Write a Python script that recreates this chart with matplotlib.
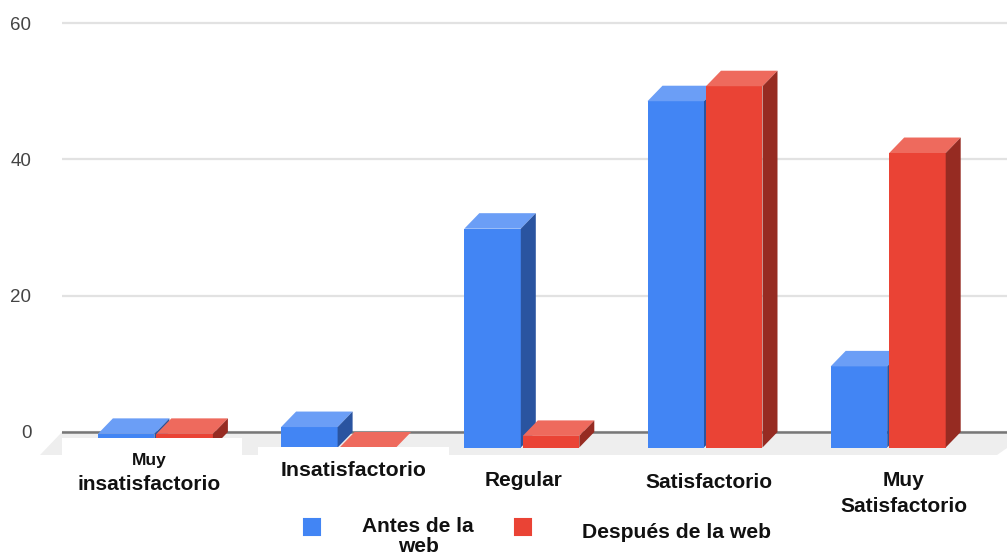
import matplotlib
matplotlib.use("Agg")
import matplotlib.pyplot as plt
from matplotlib.patches import Polygon, Rectangle, FancyBboxPatch

plt.rcParams['font.family'] = ['Liberation Sans', 'DejaVu Sans']

categories = ["Muy\ninsatisfactorio", "Insatisfactorio", "Regular", "Satisfactorio", "Muy\nSatisfactorio"]
antes = [2, 3, 32.1, 50.8, 11.9]
despues = [2, 0, 1.7, 53, 43.2]
series_names = ["Antes de la\nweb", "Después de la web"]
yticks = [0, 20, 40, 60]

W, H = 1007, 556
BLUE = ("#4285f4", "#6b9ef6", "#2a54a0")
RED = ("#ea4335", "#ee6a5d", "#962b22")

fig = plt.figure(figsize=(W / 100, H / 100), dpi=100, facecolor="white")
L = 62
ax = fig.add_axes([L / W, 0, (W - L) / W, 1])
PX_Y = (432 - 23) / 60
PX_X = 183.2
X0 = 155.4
ax.set_xlim((L - X0) / PX_X, (W - X0) / PX_X)
ax.set_ylim(-(H - 432) / PX_Y, 432 / PX_Y)
for s in ax.spines.values():
    s.set_visible(False)
ax.set_xticks([])
ax.set_yticks(yticks)
ax.tick_params(axis="y", length=0, pad=22, labelsize=13.5, labelcolor="#444444")
ax.grid(axis="y", color="#e2e2e2", linewidth=1.6, zorder=0)
ax.set_axisbelow(True)

dx = 15 / PX_X
dy = 15.5 / PX_Y
bw = 56.5 / PX_X
gap = 1 / PX_X


def xp(px):
    return (px - X0) / PX_X


def yp(py):
    return (432 - py) / PX_Y


# floor
ax.add_patch(Polygon([(xp(40), yp(455)), (xp(62), yp(432)), (xp(1030), yp(432)), (xp(997), yp(455))],
                     closed=True, facecolor="#eeeeee", edgecolor="none", zorder=1, clip_on=False))
ax.axhline(0, color="#777777", linewidth=1.8, zorder=2)


def bar3d(x, v, cols, z):
    b = -dy
    t = v - dy
    ax.bar(x, t - b, width=bw, bottom=b, align="edge", color=cols[0], linewidth=0, zorder=z)
    ax.add_patch(Polygon([(x, t), (x + dx, v), (x + bw + dx, v), (x + bw, t)], closed=True,
                         facecolor=cols[1], edgecolor="none", zorder=z))
    ax.add_patch(Polygon([(x + bw, b), (x + bw + dx, 0), (x + bw + dx, v), (x + bw, t)], closed=True,
                         facecolor=cols[2], edgecolor="none", zorder=z))


for i in range(len(categories)):
    bar3d(i - bw - gap, antes[i], BLUE, 3 + i * 0.1)
    bar3d(i + gap, despues[i], RED, 3.05 + i * 0.1)

# white label panels
ax.add_patch(Rectangle((xp(56), yp(500)), (242 - 56) / PX_X, (500 - 438) / PX_Y,
                       facecolor="white", edgecolor="none", zorder=5))
ax.add_patch(Rectangle((xp(258), yp(500)), (449 - 258) / PX_X, (500 - 447) / PX_Y,
                       facecolor="white", edgecolor="none", zorder=5))

# category labels
label_kw = dict(ha="center", va="center", fontweight="bold", color="#111111", zorder=6, clip_on=False)
ax.text(xp(149), yp(460), "Muy", fontsize=12.5, **label_kw)
ax.text(xp(149), yp(484), categories[0].split("\n")[1], fontsize=15, **label_kw)
ax.text(xp(354), yp(471), categories[1], fontsize=15.3, **label_kw)
ax.text(xp(524), yp(481), categories[2], fontsize=15, **label_kw)
ax.text(xp(709), yp(482), categories[3], fontsize=15, **label_kw)
ax.text(xp(904), yp(480), categories[4].split("\n")[0], fontsize=15, **label_kw)
ax.text(xp(904), yp(506), categories[4].split("\n")[1], fontsize=15, **label_kw)

# legend
for px, c in ((303, BLUE[0]), (514, RED[0])):
    ax.add_patch(FancyBboxPatch((xp(px + 1), yp(535)), 16 / PX_X, 16 / PX_Y,
                                boxstyle="round,pad=0", facecolor=c, edgecolor=c, linewidth=1.5,
                                zorder=6, clip_on=False))
l1, l2 = series_names[0].split("\n")
ax.text(xp(418), yp(526), l1, fontsize=15, **label_kw)
ax.text(xp(418), yp(547), l2, fontsize=15, **label_kw)
ax.text(xp(676), yp(533), series_names[1], fontsize=15.2, **label_kw)

fig.savefig("out.png", dpi=100)
